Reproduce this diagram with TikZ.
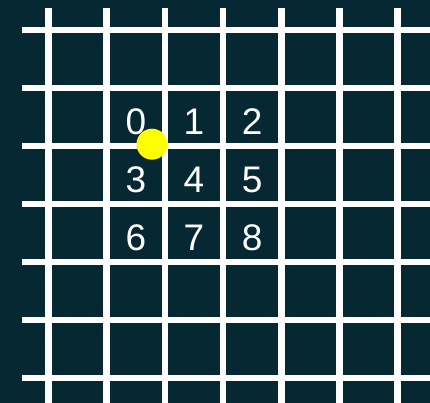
\documentclass[tikz,border=0pt]{standalone}
\usepackage{fontspec}
\setmainfont{Liberation Sans}
\definecolor{board}{RGB}{6,40,50}
\definecolor{marker}{RGB}{255,255,0}

\begin{document}
\begin{tikzpicture}[x=1pt,y=-1pt,gridline/.style={white,line width=6.5pt},digit/.style={text=white,font=\fontsize{37}{37}\selectfont,anchor=base,inner sep=0pt},dot/.style={circle,fill=marker,minimum size=31pt,inner sep=0pt}]
\fill[board] (0,0) rectangle (430,403);
\useasboundingbox (0,0) rectangle (430,403);
% grid
\foreach \i in {0,...,6} {
  \draw[gridline] ({48.5+58.2*\i},7.7) -- ({48.5+58.2*\i},403);
  \draw[gridline] (22.3,{30+58*\i}) -- (430,{30+58*\i});
}
% cell numbers
\foreach \r in {0,1,2}
  \foreach \c in {0,1,2} {
    \pgfmathtruncatemacro\n{3*\r+\c}
    \node[digit] (cell\n) at ({135.8+58.2*\c},{135+57.5*\r}) {\n};
  }
\node[dot] (pos) at (152,144.2) {};
\end{tikzpicture}
\end{document}
